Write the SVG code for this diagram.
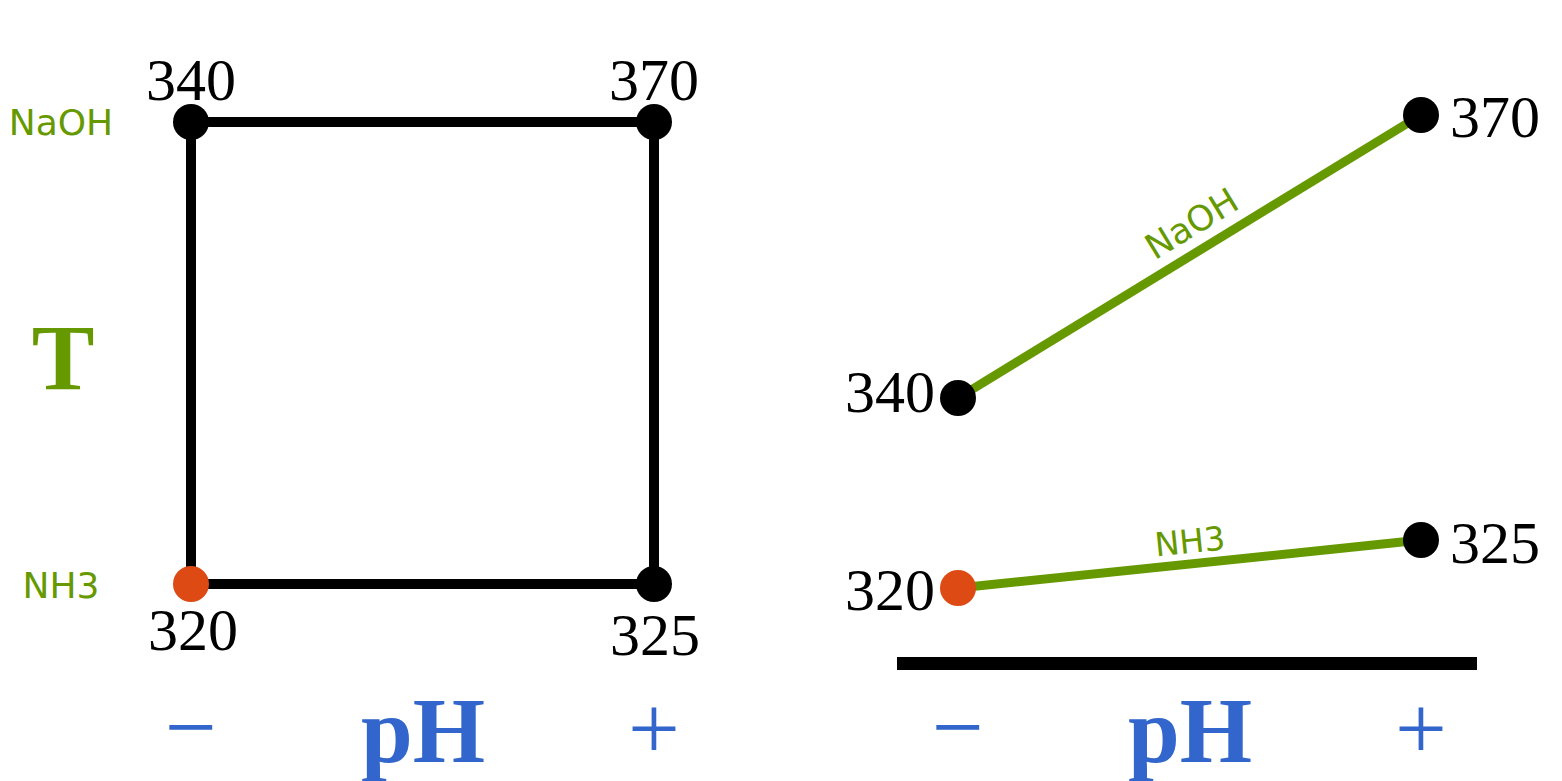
<svg xmlns="http://www.w3.org/2000/svg" width="1562" height="781" viewBox="0 0 1562 781">
<style>
.num{font-family:"Liberation Serif",serif;font-size:60px;fill:#000}
.lab{font-family:"DejaVu Sans",sans-serif;fill:#669900}
.axis{font-family:"Liberation Serif",serif;fill:#3366cc}
.edge{stroke:#000;stroke-width:10;fill:none}
.gedge{stroke:#669900;stroke-width:9;fill:none}
.dot{fill:#000}
.odot{fill:#dd4a14}
</style>
<rect width="1562" height="781" fill="#fff"/>
<g id="connectors">
<line class="edge" x1="191" y1="122" x2="654" y2="122"/>
<line class="edge" x1="191" y1="122" x2="191" y2="584"/>
<line class="edge" x1="654" y1="122" x2="654" y2="584"/>
<line class="edge" x1="191" y1="584" x2="654" y2="584"/>
<line class="gedge" x1="958" y1="398" x2="1421" y2="115"/>
<line class="gedge" x1="958" y1="588" x2="1421" y2="540"/>
<text class="lab" font-size="35" text-anchor="middle" transform="translate(1198,234) rotate(-31.4)">NaOH</text>
<text class="lab" font-size="33" text-anchor="middle" transform="translate(1191,553) rotate(-5.9)">NH3</text>
</g>
<g id="left-n340"><circle class="dot" cx="191" cy="122" r="18"/><text class="num" x="191" y="100" text-anchor="middle">340</text></g>
<g id="left-n370"><circle class="dot" cx="654" cy="122" r="18"/><text class="num" x="654" y="100" text-anchor="middle">370</text></g>
<g id="left-n320"><circle class="odot" cx="191" cy="584" r="18"/><text class="num" x="193" y="650" text-anchor="middle">320</text></g>
<g id="left-n325"><circle class="dot" cx="654" cy="584" r="18"/><text class="num" x="655" y="655" text-anchor="middle">325</text></g>
<g id="left-labels">
<text class="lab" font-size="36" x="61" y="135" text-anchor="middle">NaOH</text>
<text class="lab" font-size="36" x="61" y="598" text-anchor="middle">NH3</text>
<text x="63" y="389" text-anchor="middle" font-family="Liberation Serif,serif" font-weight="bold" font-size="94" fill="#669900">T</text>
<text class="axis" x="191" y="758" text-anchor="middle" font-size="92">−</text>
<text class="axis" x="423" y="762" text-anchor="middle" font-size="93" font-weight="bold">pH</text>
<text class="axis" x="654" y="759" text-anchor="middle" font-size="92">+</text>
</g>
<g id="right-n340"><circle class="dot" cx="958" cy="398" r="18"/><text class="num" x="935" y="412" text-anchor="end">340</text></g>
<g id="right-n370"><circle class="dot" cx="1421" cy="115" r="18"/><text class="num" x="1450" y="137">370</text></g>
<g id="right-n320"><circle class="odot" cx="958" cy="588" r="18"/><text class="num" x="935" y="610" text-anchor="end">320</text></g>
<g id="right-n325"><circle class="dot" cx="1421" cy="540" r="18"/><text class="num" x="1450" y="563">325</text></g>
<g id="right-axis">
<rect x="897" y="657" width="580" height="13" fill="#000"/>
<text class="axis" x="958" y="758" text-anchor="middle" font-size="92">−</text>
<text class="axis" x="1190" y="762" text-anchor="middle" font-size="93" font-weight="bold">pH</text>
<text class="axis" x="1421" y="759" text-anchor="middle" font-size="92">+</text>
</g>
</svg>
